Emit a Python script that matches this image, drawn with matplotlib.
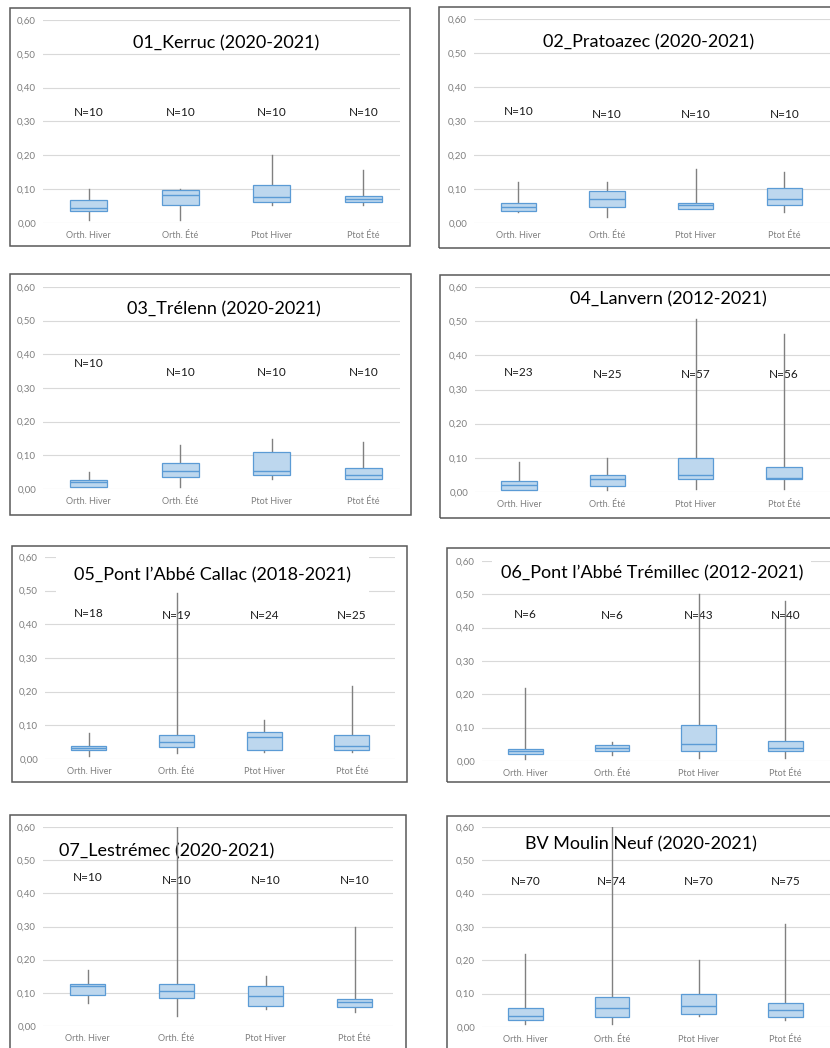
import matplotlib
matplotlib.use("Agg")
import matplotlib.pyplot as plt
from matplotlib.patches import Rectangle
from matplotlib.ticker import FuncFormatter

plt.rcParams['font.family'] = ['Lato', 'DejaVu Sans']

TITRES = ['01_Kerruc (2020-2021)', '02_Pratoazec (2020-2021)',
          '03_Trélenn (2020-2021)', '04_Lanvern (2012-2021)',
          '05_Pont l\u2019Abbé Callac (2018-2021)',
          '06_Pont l\u2019Abbé Trémillec (2012-2021)',
          '07_Lestrémec (2020-2021)', 'BV Moulin Neuf (2020-2021)']
CATEGORIES = ['Orth. Hiver', 'Orth. Été', 'Ptot Hiver', 'Ptot Été']
N_ECH = [[10, 10, 10, 10], [10, 10, 10, 10], [10, 10, 10, 10], [23, 25, 57, 56],
         [18, 19, 24, 25], [6, 6, 43, 40], [10, 10, 10, 10], [70, 74, 70, 75]]
W_MIN = [[0.008, 0.008, 0.053, 0.053], [0.031, 0.017, 0.041, 0.031],
         [0.007, 0.007, 0.031, 0.029], [0.007, 0.005, 0.010, 0.010],
         [0.008, 0.018, 0.020, 0.020], [0.007, 0.017, 0.010, 0.010],
         [0.070, 0.030, 0.052, 0.041], [0.008, 0.008, 0.032, 0.022]]
Q1 = [[0.034, 0.053, 0.063, 0.061], [0.034, 0.046, 0.041, 0.053],
      [0.007, 0.036, 0.041, 0.029], [0.007, 0.019, 0.038, 0.038],
      [0.028, 0.036, 0.028, 0.028], [0.021, 0.031, 0.029, 0.029],
      [0.092, 0.083, 0.061, 0.058], [0.022, 0.030, 0.040, 0.030]]
MEDIANE = [[0.045, 0.082, 0.077, 0.070], [0.047, 0.071, 0.052, 0.070],
           [0.020, 0.054, 0.054, 0.041], [0.020, 0.039, 0.050, 0.040],
           [0.034, 0.050, 0.064, 0.040], [0.030, 0.040, 0.050, 0.040],
           [0.122, 0.107, 0.090, 0.072], [0.032, 0.056, 0.062, 0.050]]
Q3 = [[0.069, 0.098, 0.112, 0.080], [0.059, 0.094, 0.059, 0.102],
      [0.027, 0.078, 0.111, 0.062], [0.031, 0.050, 0.099, 0.072],
      [0.040, 0.070, 0.081, 0.070], [0.036, 0.049, 0.109, 0.059],
      [0.128, 0.128, 0.121, 0.080], [0.058, 0.090, 0.100, 0.072]]
W_MAX = [[0.100, 0.100, 0.200, 0.157], [0.120, 0.120, 0.158, 0.150],
         [0.050, 0.130, 0.149, 0.140], [0.089, 0.099, 0.505, 0.463],
         [0.078, 0.493, 0.117, 0.218], [0.220, 0.058, 0.500, 0.480],
         [0.169, 0.620, 0.151, 0.300], [0.220, 0.620, 0.200, 0.308]]

# mise en page (pixels de l'image 830x1048)
W, H = 830, 1048
# cadre : x0, y0, x1, y1
CADRES = [(10, 8, 410, 246), (439, 7, 836, 248), (10, 274, 411, 515), (440, 275, 836, 518),
          (12, 546, 407, 782), (447, 548, 836, 782), (10, 815, 406, 1052), (447, 816, 836, 1052)]
# axes : gauche, haut (0,60), bas (0,00), pas entre catégories, droite
AXES = [(43, 20, 223, 91.5, 400), (474, 19, 223, 88.7, 840), (43, 287, 489, 91.5, 400),
        (475, 287, 492, 88.3, 840), (45, 557, 759, 87.7, 395), (482, 561, 761, 86.7, 840),
        (43, 827, 1026, 89.0, 393), (482, 827, 1027, 86.7, 840)]
# titre : x, y (unités des données), marge du fond blanc (0 = pas de fond)
TITRE_POS = [(2.5, 0.532, 0), (2.47, 0.532, 0), (2.48, 0.533, 0),
             (2.69, 0.564, 0), (2.41, 0.545, 13), (2.46, 0.562, 6),
             (1.89, 0.527, 0), (2.33, 0.547, 0)]
# hauteur des étiquettes N= (première, suivantes)
N_Y = [(0.328, 0.328), (0.328, 0.32), (0.374, 0.345), (0.351, 0.344),
       (0.433, 0.427), (0.44, 0.436), (0.449, 0.439), (0.437, 0.437)]

fig = plt.figure(figsize=(W / 100, H / 100), dpi=100)

for i in range(len(TITRES)):
    # cadre du graphique
    x0, y0, x1, y1 = CADRES[i]
    fig.patches.append(Rectangle((x0 / W, 1 - y1 / H), (x1 - x0) / W, (y1 - y0) / H,
                                 transform=fig.transFigure, fill=False,
                                 edgecolor='#595959', linewidth=1.1, zorder=0))

    left, top, bot, pas, right = AXES[i]
    ax = fig.add_axes([left / W, 1 - bot / H, (right - left) / W, (bot - top) / H])

    stats = []
    for j in range(4):
        stats.append(dict(whislo=W_MIN[i][j], q1=Q1[i][j], med=MEDIANE[i][j],
                          q3=Q3[i][j], whishi=W_MAX[i][j], fliers=[]))

    ax.bxp(stats, positions=[1, 2, 3, 4], widths=0.4, patch_artist=True,
           showcaps=False, showfliers=False,
           boxprops=dict(facecolor='#bdd7ee', edgecolor='#5b9bd5', linewidth=0.9, zorder=5),
           medianprops=dict(color='#5b9bd5', linewidth=1.0, zorder=6),
           whiskerprops=dict(color='#808080', linewidth=1.0, zorder=4))

    ax.set_ylim(0, 0.60)
    ax.set_xlim(0.5, 0.5 + (right - left) / pas)
    ax.set_yticks([0, 0.1, 0.2, 0.3, 0.4, 0.5, 0.6])
    ax.yaxis.set_major_formatter(FuncFormatter(lambda v, p: f"{v:.2f}".replace('.', ',')))
    ax.set_xticks([1, 2, 3, 4])
    ax.set_xticklabels(CATEGORIES)
    ax.tick_params(axis='both', length=0, labelcolor='#7f7f7f')
    ax.tick_params(axis='x', pad=6, labelsize=6.5)
    ax.tick_params(axis='y', pad=5, labelsize=7)
    ax.yaxis.grid(True, color='#d9d9d9', linewidth=0.8)
    ax.set_axisbelow(True)
    for s in ax.spines.values():
        s.set_visible(False)
    ax.patch.set_alpha(0)

    # titre
    tx, ty, marge = TITRE_POS[i]
    kw = {}
    if marge:
        kw['bbox'] = dict(facecolor='white', edgecolor='none', pad=marge)
    ax.text(tx, ty, TITRES[i], ha='center', va='center', fontsize=13,
            color='#000000', zorder=3, **kw)

    # effectifs
    for j in range(4):
        ny = N_Y[i][0] if j == 0 else N_Y[i][1]
        ax.text(j + 1, ny, f"N={N_ECH[i][j]}", ha='center', va='center',
                fontsize=8.5, color='#1a1a1a', zorder=3)

fig.savefig('out.png', dpi=100, facecolor='white')
